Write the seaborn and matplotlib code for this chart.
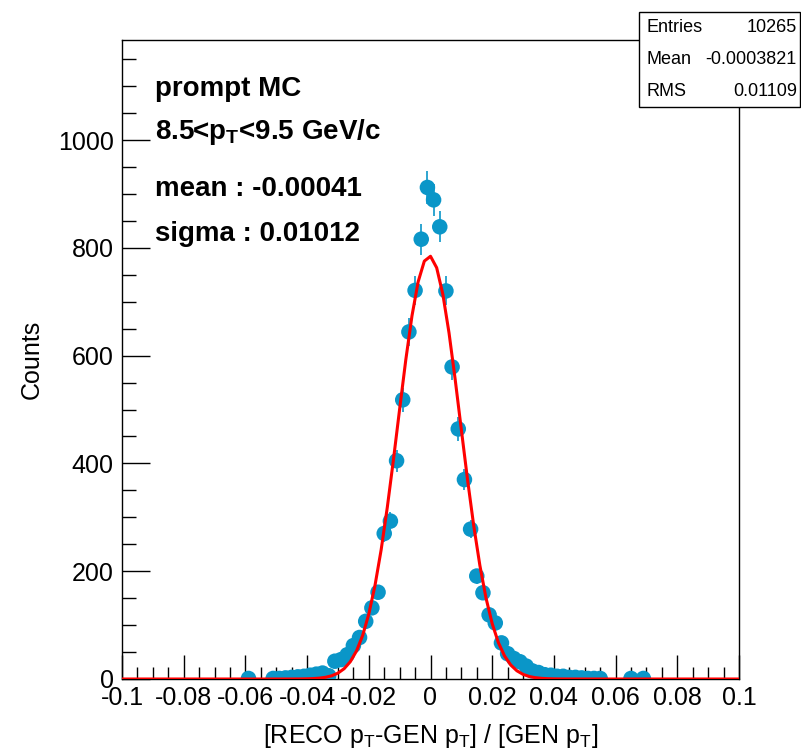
import numpy as np
import pandas as pd
import matplotlib
matplotlib.use("Agg")
import matplotlib.pyplot as plt
from matplotlib.patches import Rectangle
from matplotlib.ticker import MultipleLocator, FixedLocator, FixedFormatter
import seaborn as sns

# ---------------- data ----------------
bin_centers = [-0.059, -0.051, -0.049, -0.047, -0.045, -0.043, -0.041, -0.039,
               -0.037, -0.035, -0.033, -0.031, -0.029, -0.027, -0.025, -0.023,
               -0.021, -0.019, -0.017, -0.015, -0.013, -0.011, -0.009, -0.007,
               -0.005, -0.003, -0.001, 0.001, 0.003, 0.005, 0.007, 0.009,
               0.011, 0.013, 0.015, 0.017, 0.019, 0.021, 0.023, 0.025,
               0.027, 0.029, 0.031, 0.033, 0.035, 0.037, 0.039, 0.041,
               0.043, 0.045, 0.047, 0.049, 0.051, 0.053, 0.055, 0.065, 0.069]
counts = [1, 1, 1, 2, 3, 4, 5, 7,
          9, 11, 6, 33, 36, 45, 62, 77,
          107, 132, 161, 270, 293, 405, 518, 644,
          721, 816, 912, 889, 839, 720, 579, 464,
          370, 278, 191, 160, 119, 104, 67, 47,
          38, 32, 24, 15, 12, 8, 7, 5,
          5, 3, 3, 2, 1, 1, 1, 1, 1]

fit_amplitude = 785.0
fit_mean = -0.00041
fit_sigma = 0.01012
fit_npx = 101

x_ticks = [-0.1, -0.08, -0.06, -0.04, -0.02, 0.0, 0.02, 0.04, 0.06, 0.08, 0.1]
x_ticklabels = ["-0.1", "-0.08", "-0.06", "-0.04", "-0.02", "0", "0.02", "0.04", "0.06", "0.08", "0.1"]
y_ticks = [0, 200, 400, 600, 800, 1000]
y_ticklabels = ["0", "200", "400", "600", "800", "1000"]

stats_labels = ["Entries", "Mean", "RMS"]
stats_values = ["10265", "-0.0003821", "0.01109"]

info_lines = ["prompt MC", r"8.5<p$_\mathbf{T}$<9.5 GeV/c",
              "mean : -0.00041", "sigma : 0.01012"]

# ---------------- style ----------------
sns.set_style("ticks")
plt.rcParams['font.family'] = ['Liberation Sans', 'DejaVu Sans']
plt.rcParams['mathtext.fontset'] = 'custom'
plt.rcParams['mathtext.rm'] = 'Liberation Sans'
plt.rcParams['mathtext.bf'] = 'Liberation Sans:bold'
plt.rcParams['mathtext.it'] = 'Liberation Sans:italic'
plt.rcParams['text.color'] = 'black'
plt.rcParams['axes.labelcolor'] = 'black'
plt.rcParams['xtick.color'] = 'black'
plt.rcParams['ytick.color'] = 'black'

W, H = 801, 751
fig = plt.figure(figsize=(W / 100, H / 100), dpi=100)
fig.patch.set_facecolor("white")

L, R, T, B = 122, 739, 40, 679
ax = fig.add_axes([L / W, 1 - B / H, (R - L) / W, (B - T) / H])
ax.set_facecolor("white")

df = pd.DataFrame({"x": bin_centers, "y": counts})
df["err"] = np.sqrt(df["y"])

marker_color = "#0a96c8"
ax.vlines(df["x"], df["y"] - df["err"], df["y"] + df["err"],
          color=marker_color, linewidth=1.2, zorder=2)
sns.scatterplot(data=df, x="x", y="y", ax=ax, s=125, color=marker_color,
                edgecolor="none", linewidth=0, zorder=3, legend=False)

fx = np.linspace(-0.1, 0.1, fit_npx)
fy = fit_amplitude * np.exp(-0.5 * ((fx - fit_mean) / fit_sigma) ** 2)
fit_df = pd.DataFrame({"x": fx, "y": fy})
sns.lineplot(data=fit_df, x="x", y="y", ax=ax, color="#ff0000", linewidth=2.2,
             zorder=4, legend=False, errorbar=None, sort=False)

ax.set_xlim(-0.1, 0.1)
ax.set_ylim(0, 1185.6)

ax.xaxis.set_major_locator(FixedLocator(x_ticks))
ax.xaxis.set_major_formatter(FixedFormatter(x_ticklabels))
ax.xaxis.set_minor_locator(MultipleLocator(0.005))
ax.yaxis.set_major_locator(FixedLocator(y_ticks))
ax.yaxis.set_major_formatter(FixedFormatter(y_ticklabels))
ax.yaxis.set_minor_locator(MultipleLocator(50))

ax.tick_params(axis="x", which="major", direction="in", length=17, width=1,
               labelsize=18, pad=5, top=False, color="black")
ax.tick_params(axis="x", which="minor", direction="in", length=9, width=1,
               top=False, color="black")
ax.tick_params(axis="y", which="major", direction="in", length=20, width=1,
               labelsize=18, pad=6, right=False, color="black")
ax.tick_params(axis="y", which="minor", direction="in", length=10, width=1,
               right=False, color="black")

for sp in ax.spines.values():
    sp.set_visible(True)
    sp.set_color("black")
    sp.set_linewidth(1.0)

ax.set_xlabel(r"[RECO p$_\mathrm{T}$-GEN p$_\mathrm{T}$] / [GEN p$_\mathrm{T}$]",
              fontsize=18)
ax.xaxis.set_label_coords(0.5, -(722 - B) / (B - T))
ax.set_ylabel("Counts", fontsize=18)
ax.yaxis.set_label_coords(-(L - 44) / (R - L), 0.5)

# info text
baselines = [96, 139, 196, 241]
for txt, yb in zip(info_lines, baselines):
    fig.text(155 / W, 1 - yb / H, txt, fontsize=20, fontweight="bold",
             ha="left", va="baseline")

# stats box
bx0, by0, bx1, by1 = 639, 12, 800, 107
fig.patches.append(Rectangle((bx0 / W, 1 - by1 / H), (bx1 - bx0) / W, (by1 - by0) / H,
                             transform=fig.transFigure, facecolor="white",
                             edgecolor="black", linewidth=1.0, zorder=10))
row_y = [28, 60, 91]
for lab, val, yy in zip(stats_labels, stats_values, row_y):
    fig.text(647 / W, 1 - yy / H, lab, fontsize=13, ha="left", va="center", zorder=11)
    fig.text(797 / W, 1 - yy / H, val, fontsize=13, ha="right", va="center", zorder=11)

fig.savefig("out.png", dpi=100, facecolor="white")
